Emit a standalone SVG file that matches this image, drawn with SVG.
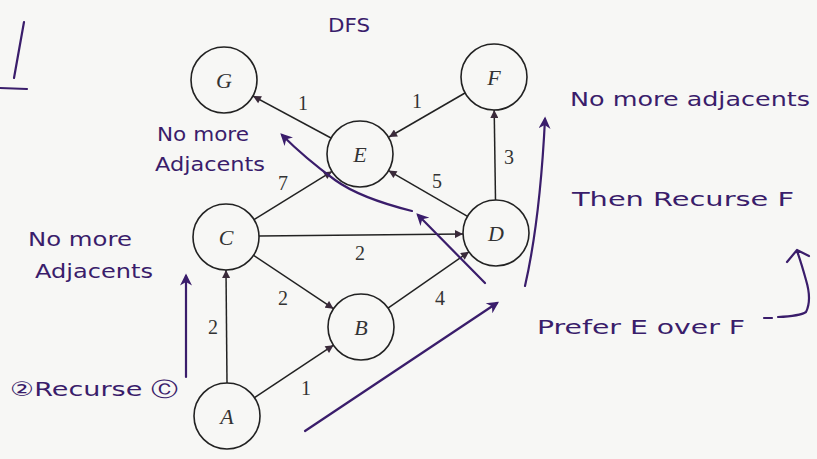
<svg xmlns="http://www.w3.org/2000/svg" width="817" height="459" viewBox="0 0 817 459">
<defs>
<style>
.node circle{fill:none;stroke:#222;stroke-width:1.6}
.node text{font-family:"Liberation Serif",serif;font-style:italic;font-size:22px;fill:#333;text-anchor:middle}
.edge{stroke:#222;stroke-width:1.5;fill:none;marker-end:url(#ah)}
.lbl{font-family:"Liberation Serif",serif;font-size:20px;fill:#333;text-anchor:middle}
.ink{stroke:#3a1d6b;stroke-width:2.2;fill:none;stroke-linecap:round;stroke-linejoin:round}
.inka{stroke:#3a1d6b;stroke-width:2.2;fill:none;stroke-linecap:round;marker-end:url(#ph)}
.hw{font-family:"DejaVu Sans",sans-serif;font-size:20px;fill:#3a1d6b}
</style>
<marker id="ah" viewBox="0 0 10 10" refX="10" refY="5" markerWidth="9" markerHeight="8" markerUnits="userSpaceOnUse" orient="auto">
<path d="M0,0 L10,5 L0,10 Z" fill="#3a2a3a"/>
</marker>
<marker id="ph" viewBox="0 0 10 10" refX="8" refY="5" markerWidth="13" markerHeight="12" markerUnits="userSpaceOnUse" orient="auto">
<path d="M0,0 L10,5 L0,10 L3,5 Z" fill="#3a1d6b"/>
</marker>
</defs>
<rect width="817" height="459" fill="#f7f7f5"/>

<g id="connectors">
<line class="edge" x1="331" y1="138" x2="253" y2="96"/>
<line class="edge" x1="465" y1="93" x2="389" y2="137"/>
<line class="edge" x1="495.5" y1="200" x2="494.2" y2="110"/>
<line class="edge" x1="467.5" y1="216.4" x2="388.5" y2="170.6"/>
<line class="edge" x1="254" y1="219.6" x2="332" y2="171.4"/>
<line class="edge" x1="259" y1="236" x2="463" y2="234"/>
<line class="edge" x1="253.5" y1="255.3" x2="333.5" y2="308.7"/>
<line class="edge" x1="227" y1="383" x2="226" y2="270"/>
<line class="edge" x1="254.5" y1="397.7" x2="333.5" y2="345.2"/>
<line class="edge" x1="388" y1="308.2" x2="469" y2="251.8"/>
<text class="lbl" x="303" y="110">1</text>
<text class="lbl" x="417" y="108">1</text>
<text class="lbl" x="509" y="164">3</text>
<text class="lbl" x="437" y="188">5</text>
<text class="lbl" x="283" y="190">7</text>
<text class="lbl" x="360" y="260">2</text>
<text class="lbl" x="283" y="305">2</text>
<text class="lbl" x="213" y="334">2</text>
<text class="lbl" x="306" y="395">1</text>
<text class="lbl" x="440" y="305">4</text>
</g>

<g id="G" class="node"><circle cx="224" cy="80" r="33"/><text x="224" y="88">G</text></g>
<g id="E" class="node"><circle cx="360" cy="154" r="33"/><text x="360" y="162">E</text></g>
<g id="F" class="node"><circle cx="494" cy="77" r="33"/><text x="494" y="85">F</text></g>
<g id="C" class="node"><circle cx="226" cy="237" r="33"/><text x="226" y="245">C</text></g>
<g id="D" class="node"><circle cx="496" cy="233" r="33"/><text x="496" y="241">D</text></g>
<g id="B" class="node"><circle cx="361" cy="327" r="33"/><text x="361" y="335">B</text></g>
<g id="A" class="node"><circle cx="227" cy="416" r="33"/><text x="227" y="424">A</text></g>

<g id="annotations">
<path class="ink" d="M24 22 L14 78 M0 88 L27 89"/>
<text class="hw" x="328" y="32" textLength="42" lengthAdjust="spacingAndGlyphs">DFS</text>
<text class="hw" x="157" y="141" font-size="17" textLength="92" lengthAdjust="spacingAndGlyphs">No more</text>
<text class="hw" x="155" y="171" font-size="18" textLength="110" lengthAdjust="spacingAndGlyphs">Adjacents</text>
<text class="hw" x="28" y="246" font-size="18" textLength="104" lengthAdjust="spacingAndGlyphs">No more</text>
<text class="hw" x="35" y="278" font-size="22" textLength="118" lengthAdjust="spacingAndGlyphs">Adjacents</text>
<text class="hw" x="10" y="396" font-size="20" textLength="168" lengthAdjust="spacingAndGlyphs">②Recurse Ⓒ</text>
<text class="hw" x="570" y="106" font-size="20" textLength="240" lengthAdjust="spacingAndGlyphs">No more adjacents</text>
<text class="hw" x="572" y="206" font-size="20" textLength="222" lengthAdjust="spacingAndGlyphs">Then Recurse F</text>
<text class="hw" x="537" y="334" font-size="20" textLength="208" lengthAdjust="spacingAndGlyphs">Prefer E over F</text>
<path class="ink" d="M764 318 L772 318 M778 317 Q800 316 806 312 Q812 300 806 280 Q801 262 797 251 M787 262 L797 250 L809 256"/>
<path class="inka" d="M186 377 L186 276"/>
<path class="inka" d="M305 431 L497 303"/>
<path class="inka" d="M485 283 L418 215"/>
<path class="inka" d="M412 211 Q360 198 335 180 Q305 158 282 135"/>
<path class="inka" d="M525 286 Q540 220 545 119"/>
</g>
</svg>
